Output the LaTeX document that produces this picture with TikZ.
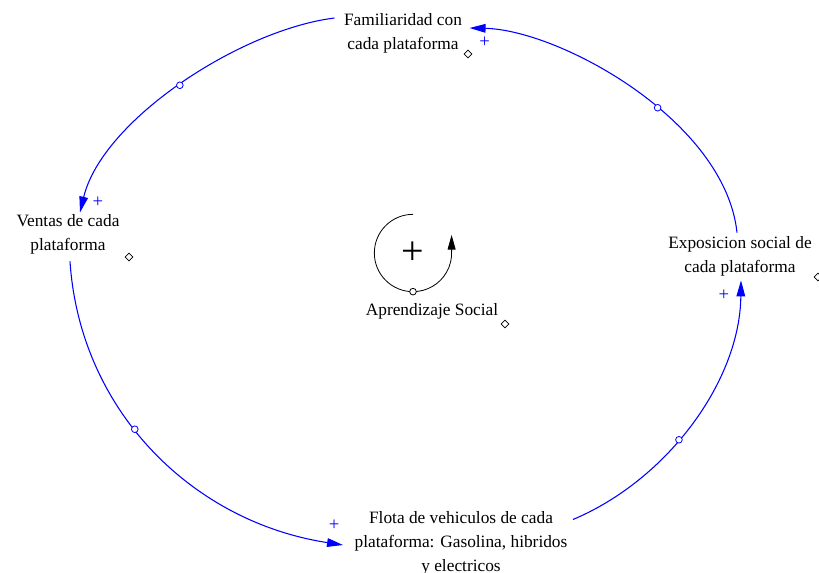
\documentclass[tikz,border=0pt]{standalone}
\usepackage{fontspec}
\setmainfont{Liberation Serif}
\usetikzlibrary{arrows.meta,shapes.geometric}

\begin{document}
\begin{tikzpicture}[
  x=0.75pt, y=-0.75pt,
  >={Triangle[length=12pt,width=6.5pt]},
  var/.style={align=center, inner sep=1pt, font=\fontsize{13}{18}\selectfont},
  link/.style={->, draw=blue, line width=0.8pt},
  pol/.style={text=blue, inner sep=0pt, font=\fontsize{14}{14}\selectfont},
  hdl/.style={circle, draw=blue, fill=white, line width=0.6pt, inner sep=0pt, minimum size=5pt},
  dmd/.style={diamond, draw=black, line width=0.6pt, inner sep=0pt, minimum size=6pt},
  loopln/.style={-{Triangle[length=11pt,width=6pt]}, draw=black, line width=0.6pt}
]
\useasboundingbox (0,0) rectangle (819,573);

\node[var] (fam) at (403,33) {Familiaridad con\\cada plataforma};
\node[var] (ven) at (68,234) {Ventas de cada\\plataforma};
\node[var] (expo) at (740,256) {Exposicion social de\\cada plataforma};
\node[var] (flota) at (461,543) {Flota de vehiculos de cada\\plataforma: Gasolina, hibridos\\y electricos};
\node[var] (apr) at (432,311) {Aprendizaje Social};

% corner marks
\node[dmd] (famd) at (468,54) {};
\node[dmd] (vend) at (129,257) {};
\node[dmd] (expod) at (818,277) {};
\node[dmd] (aprd) at (505,324) {};

% loop symbol
\node[inner sep=0pt, font=\fontsize{30}{30}\selectfont] (loop) at (413,253) {+};
\draw[loopln] ([shift={(90:29pt)}]loop.center) arc[start angle=90, end angle=363, radius=29pt] -- ++(0,-16);
\node[hdl, draw=black] (looph) at ([yshift=-29pt]loop.center) {};

% links round the loop
\draw[link] ([shift={(-8,-15)}]fam.west) .. controls +(-95,12) and +(22,-92) .. ([shift={(12,0)}]ven.north)
  node[hdl, pos=0.5] {} node[pol, pos=1, shift={(18,-10)}] {+};
\draw[link] ([shift={(2,6)}]ven.south) .. controls +(10,150) and +(-150,-23) .. ([shift={(-10,2)}]flota.west)
  node[hdl, pos=0.43] {} node[pol, pos=1, shift={(-9,-20)}] {+};
\draw[link] ([shift={(4,10)}]flota.north east) .. controls +(95,-40) and +(-1,100) .. ([shift={(1,3)}]expo.south)
  node[hdl, pos=0.43] {} node[pol, pos=1, shift={(-17,15)}] {+};
\draw[link] ([shift={(-3,-2)}]expo.north) .. controls +(-12,-112) and +(90,2) .. ([shift={(6,-5)}]fam.east)
  node[hdl, pos=0.42] {} node[pol, pos=1, shift={(15,14)}] {+};

\end{tikzpicture}
\end{document}
